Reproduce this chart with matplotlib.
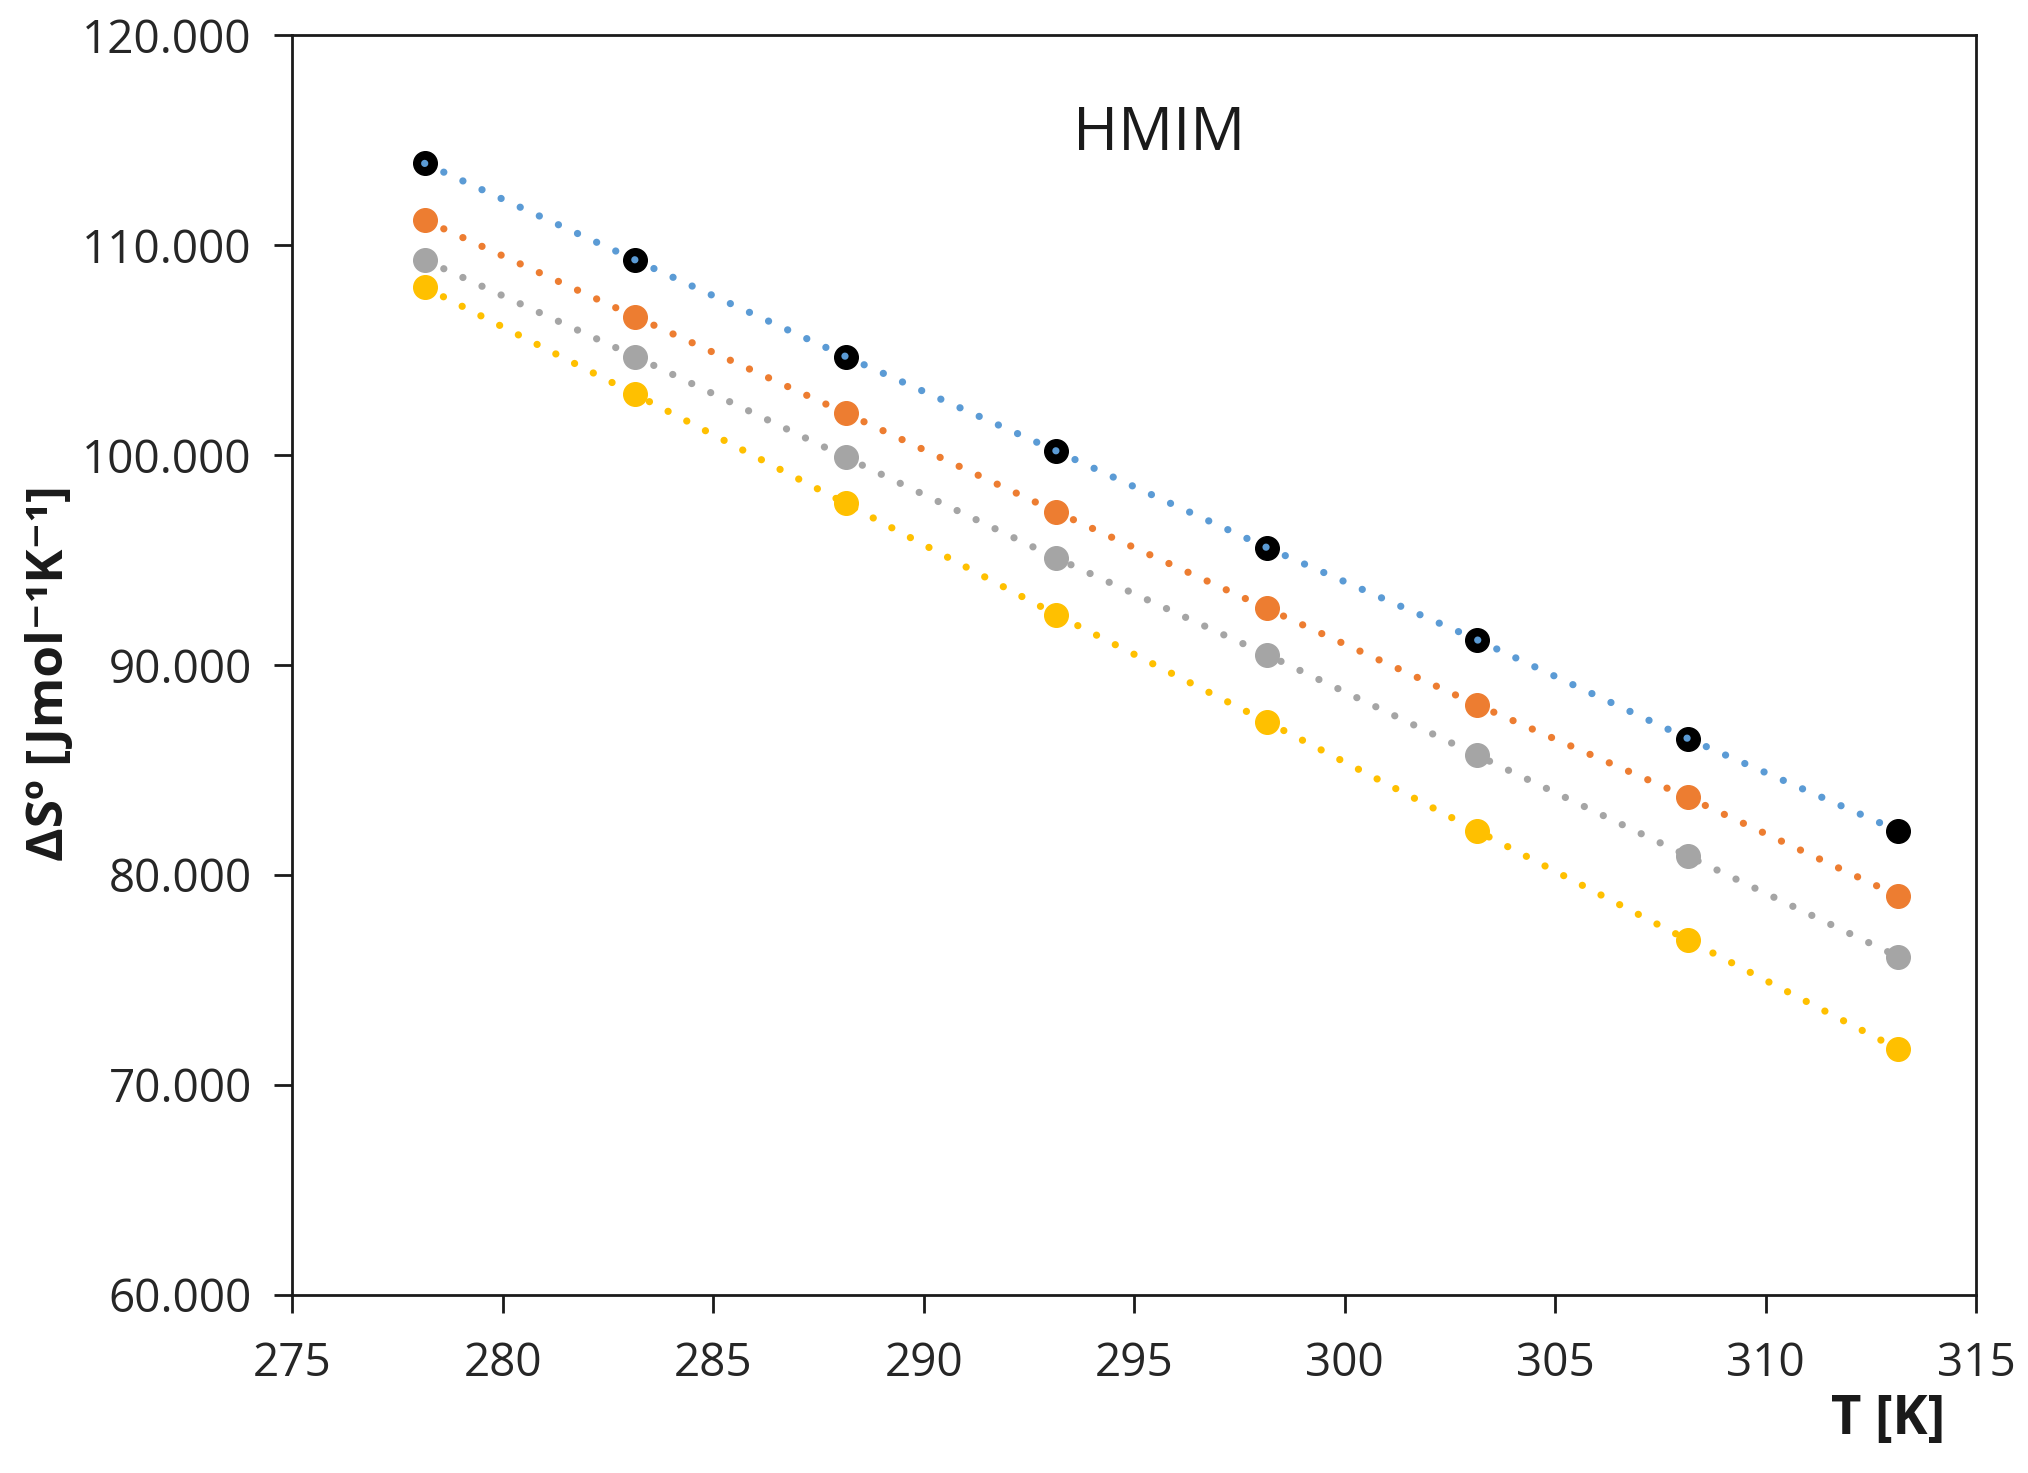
import matplotlib
matplotlib.use("Agg")
import matplotlib.pyplot as plt
from matplotlib.ticker import FormatStrFormatter, MultipleLocator

plt.rcParams['font.family'] = ['Open Sans', 'DejaVu Sans']

# temperatures [K]
temps = [278.15, 283.15, 288.15, 293.15, 298.15, 303.15, 308.15, 313.15]

# entropy values [J mol-1 K-1]
s_blue = [113.9, 109.3, 104.7, 100.2, 95.6, 91.2, 86.5, 82.1]
s_orange = [111.2, 106.6, 102.0, 97.3, 92.7, 88.1, 83.7, 79.0]
s_gray = [109.3, 104.7, 99.9, 95.1, 90.5, 85.7, 80.9, 76.1]
s_yellow = [108.0, 102.9, 97.7, 92.4, 87.3, 82.1, 76.9, 71.7]

series = [
    (s_blue, "#5B9BD5", "black"),
    (s_orange, "#ED7D31", "#ED7D31"),
    (s_gray, "#A5A5A5", "#A5A5A5"),
    (s_yellow, "#FFC000", "#FFC000"),
]

fig = plt.figure(figsize=(20.28, 14.73), dpi=100)
ax = fig.add_axes([0.144, 0.121, 0.8305, 0.855])

for vals, line_col, mark_col in series:
    ax.plot(temps, vals, linestyle="none", marker="o", markersize=17,
            markerfacecolor=mark_col, markeredgecolor=mark_col, zorder=3)
    ax.plot(temps, vals, linestyle=(0, (0.01, 2.9)), dash_capstyle="round",
            color=line_col, lw=5.2, zorder=4)

ax.set_xlim(275, 315)
ax.set_ylim(60, 120)
ax.xaxis.set_major_locator(MultipleLocator(5))
ax.yaxis.set_major_locator(MultipleLocator(10))
ax.yaxis.set_major_formatter(FormatStrFormatter("%.3f"))

for sp in ax.spines.values():
    sp.set_linewidth(2.0)
    sp.set_color("#1a1a1a")

ax.tick_params(axis="both", direction="out", length=13, width=2.0,
               labelsize=33, color="#1a1a1a", labelcolor="#262626")
ax.tick_params(axis="x", pad=20)
ax.tick_params(axis="y", pad=16)

ax.text(0.515, 0.922, "HMIM", transform=ax.transAxes, ha="center",
        va="center", fontsize=44, color="#1a1a1a")

fig.text(50 / 2028, 0.543, "ΔSº [Jmol⁻¹K⁻¹]", rotation=90, ha="center",
         va="center", fontsize=37, fontweight="bold", color="#1a1a1a")
fig.text(1888 / 2028, 0.036, "T [K]", ha="center", va="center",
         fontsize=38, fontweight="bold", color="#1a1a1a")

fig.savefig("out.png", dpi=100)
